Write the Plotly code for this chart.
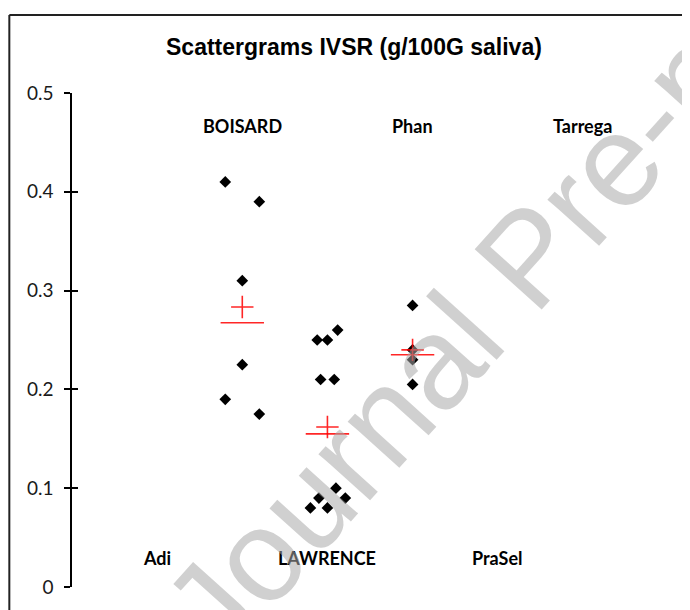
import numpy as np
import plotly.graph_objects as go

# ---- data ----
categories = ["Adi", "BOISARD", "LAWRENCE", "Phan", "PraSel", "Tarrega"]
category_x = [1, 2, 3, 4, 5, 6]
label_row = ["bottom", "top", "bottom", "top", "bottom", "top"]

boisard_x = [1.8, 2.2, 2.0, 2.0, 1.8, 2.2]
boisard_y = [0.41, 0.39, 0.31, 0.225, 0.19, 0.175]

lawrence_x = [3.12, 2.88, 3.0, 2.92, 3.08, 3.1, 2.9, 3.21, 2.8, 3.0]
lawrence_y = [0.26, 0.25, 0.25, 0.21, 0.21, 0.10, 0.09, 0.09, 0.08, 0.08]

phan_x = [4.0, 4.0, 4.0, 4.0]
phan_y = [0.285, 0.24, 0.23, 0.205]

groups = [(2, boisard_x, boisard_y), (3, lawrence_x, lawrence_y), (4, phan_x, phan_y)]

y_ticks = [0, 0.1, 0.2, 0.3, 0.4, 0.5]
y_ticktext = ["0", "0.1", "0.2", "0.3", "0.4", "0.5"]

title_text = "Scattergrams IVSR (g/100G saliva)"
watermark = "Journal Pre-proof"

# ---- figure geometry (page has an 8px body margin) ----
W, H = 682, 602
PLOT_BOTTOM = 579  # pixel row of y=0 inside the figure
L, R, T = 63.7, 22, 85
B = H - PLOT_BOTTOM
PW, PH = W - L - R, PLOT_BOTTOM - T

fig = go.Figure()

all_x = boisard_x + lawrence_x + phan_x
all_y = boisard_y + lawrence_y + phan_y
fig.add_trace(go.Scatter(
    x=all_x, y=all_y, mode="markers",
    marker=dict(symbol="diamond", size=9, color="black"),
    showlegend=False, hoverinfo="skip"))

centers = [g[0] for g in groups]
means = [float(np.mean(g[2])) for g in groups]
medians = [float(np.median(g[2])) for g in groups]

fig.add_trace(go.Scatter(
    x=centers, y=medians, mode="markers", yaxis="y2",
    marker=dict(symbol="line-ew", size=31, color="red",
                line=dict(color="rgba(255,0,0,0.85)", width=1.6)),
    showlegend=False, hoverinfo="skip"))
fig.add_trace(go.Scatter(
    x=centers, y=means, mode="markers", yaxis="y2",
    marker=dict(symbol="cross-thin", size=16, color="red",
                line=dict(color="rgba(255,0,0,0.85)", width=1.6)),
    showlegend=False, hoverinfo="skip"))

# category labels
label_y = {"top": 0.467, "bottom": 0.029}
for cx, name, row in zip(category_x, categories, label_row):
    fig.add_annotation(x=cx, y=label_y[row], xref="x", yref="y", text=name,
                       showarrow=False, xanchor="center", yanchor="middle",
                       font=dict(family="Lato", size=18, color="black", weight="bold"))

# title
fig.add_annotation(x=(345.7 - L) / PW, y=(PLOT_BOTTOM - 38.7) / PH, xref="paper", yref="paper",
                   text="<b>" + title_text + "</b>",
                   showarrow=False, xanchor="center", yanchor="middle",
                   font=dict(family="Liberation Sans", size=23, color="black"))

# chart-area frame: only its left and top edges fall inside the window
fx0 = (1 - L) / PW
fx1 = (W + 10 - L) / PW
fy0 = (PLOT_BOTTOM - H - 10) / PH
fy1 = (PLOT_BOTTOM - 7) / PH
frame_line = dict(color="#222222", width=2)
fig.add_shape(type="line", xref="paper", yref="paper", x0=fx0, x1=fx0, y0=fy0, y1=fy1,
              line=frame_line, layer="above")
fig.add_shape(type="line", xref="paper", yref="paper", x0=fx0, x1=fx1, y0=fy1, y1=fy1,
              line=frame_line, layer="above")

# watermark
fig.add_annotation(x=(519 - L) / PW, y=(PLOT_BOTTOM - 249) / PH,
                   xref="paper", yref="paper", text=watermark, textangle=-48,
                   showarrow=False, xanchor="center", yanchor="middle",
                   font=dict(family="Liberation Sans", size=131, color="rgba(168,168,168,0.54)"))

yaxis_common = dict(range=[0, 0.5], tickvals=y_ticks, showgrid=False, zeroline=False,
                    tickcolor="black", tickwidth=1.5, ticklen=6, fixedrange=True,
                    automargin=False)

fig.update_layout(
    width=W, height=H,
    margin=dict(l=L, r=R, t=T, b=B, pad=0, autoexpand=False),
    paper_bgcolor="white", plot_bgcolor="white",
    showlegend=False,
    xaxis=dict(range=[0, 7], visible=False, fixedrange=True, automargin=False),
    yaxis=dict(**yaxis_common, ticktext=y_ticktext, ticks="outside",
               showline=True, linecolor="black", linewidth=1.5,
               ticklabelstandoff=7,
               tickfont=dict(family="Lato", size=19, color="#1a1a1a")),
    yaxis2=dict(**yaxis_common, overlaying="y", side="left", ticks="inside",
                showticklabels=False, showline=False),
)

fig.write_html("out.html")
